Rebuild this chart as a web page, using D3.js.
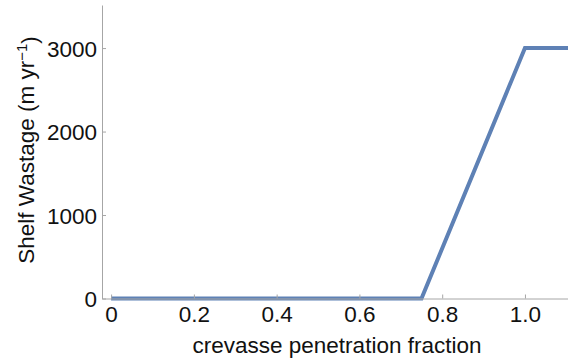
<!DOCTYPE html>
<html>
<head>
<meta charset="utf-8">
<script src="https://cdn.jsdelivr.net/npm/d3@7"></script>
<style>
  html, body { margin: 0; padding: 0; background: #fff; }
  text { font-family: "Liberation Sans", Arial, sans-serif; fill: #111; }
</style>
</head>
<body>
<svg id="chart" width="568" height="364"></svg>
<script>
// Shelf wastage as a function of crevasse penetration fraction
const penetration = [0, 0.75, 1.0, 1.11];
const wastage = [0, 0, 3000, 3000];
const xTicks = [0, 0.2, 0.4, 0.6, 0.8, 1.0];
const xTickLabels = ["0", "0.2", "0.4", "0.6", "0.8", "1.0"];
const yTicks = [0, 1000, 2000, 3000];
const yTickLabels = ["0", "1000", "2000", "3000"];

const svg = d3.select("#chart");
const axisColor = "#a6a6a6";
const lineColor = "#5e81b5";
const fontSize = 22.5;

const x = d3.scaleLinear().domain([-0.022, 1.104]).range([102, 568]);
const y = d3.scaleLinear().domain([0, 3516]).range([298.5, 5]);

// clip the data line to the plotting region
svg.append("clipPath").attr("id", "plotClip")
  .append("rect")
  .attr("x", x.range()[0]).attr("y", y.range()[1])
  .attr("width", x.range()[1] - x.range()[0])
  .attr("height", y.range()[0] - y.range()[1] + 4);

const pts = penetration.map((p, i) => [p, wastage[i]]);
svg.append("path")
  .datum(pts)
  .attr("clip-path", "url(#plotClip)")
  .attr("fill", "none")
  .attr("stroke", lineColor)
  .attr("stroke-width", 4)
  .attr("stroke-linejoin", "miter")
  .attr("d", d3.line().x(d => x(d[0])).y(d => y(d[1])));

// x axis: ticks point into the plot
const xAxis = svg.append("g")
  .attr("transform", `translate(0,${y(0)})`)
  .call(d3.axisBottom(x).tickValues(xTicks).tickSizeInner(-4).tickSizeOuter(0)
    .tickFormat((d, i) => xTickLabels[i]));
xAxis.select(".domain").attr("stroke", axisColor);
xAxis.selectAll(".tick line").attr("stroke", axisColor);
xAxis.selectAll(".tick text")
  .attr("y", 23).attr("dy", 0)
  .style("font-size", fontSize + "px")
  .attr("fill", "#111");

// y axis
const yAxis = svg.append("g")
  .attr("transform", `translate(${x.range()[0]},0)`)
  .call(d3.axisLeft(y).tickValues(yTicks).tickSizeInner(-4).tickSizeOuter(0)
    .tickFormat((d, i) => yTickLabels[i]));
yAxis.select(".domain").attr("stroke", axisColor);
yAxis.selectAll(".tick line").attr("stroke", axisColor);
yAxis.selectAll(".tick text")
  .attr("x", -5).attr("dy", "0.36em")
  .style("font-size", fontSize + "px")
  .attr("fill", "#111");

// axis titles
svg.append("text")
  .attr("x", 337).attr("y", 353)
  .attr("text-anchor", "middle")
  .style("font-size", fontSize + "px")
  .text("crevasse penetration fraction");

const yTitle = svg.append("text")
  .attr("transform", `translate(34,150) rotate(-90)`)
  .attr("text-anchor", "middle")
  .style("font-size", fontSize + "px");
yTitle.append("tspan").text("Shelf Wastage (m yr");
yTitle.append("tspan").attr("dy", "-0.45em").style("font-size", "15px").text("−1");
yTitle.append("tspan").attr("dy", "0.45em").text(")");
</script>
</body>
</html>
